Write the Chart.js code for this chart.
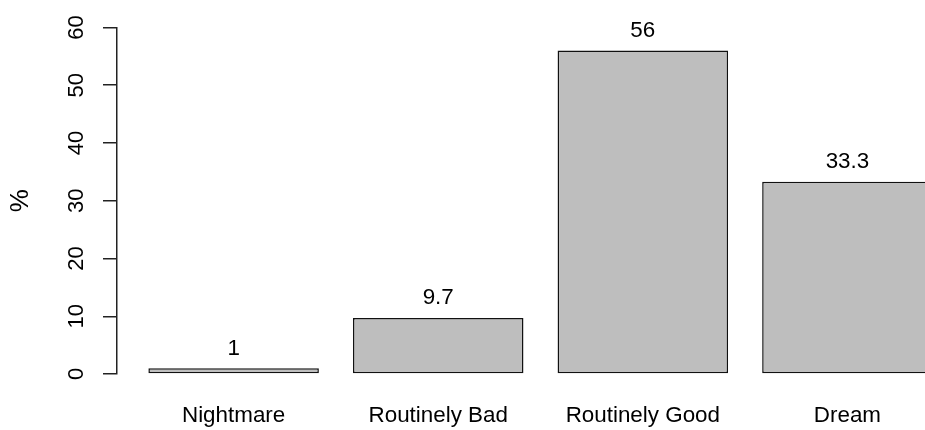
<!DOCTYPE html>
<html>
<head>
<meta charset="utf-8">
<script src="https://cdn.jsdelivr.net/npm/chart.js@4/dist/chart.umd.min.js"></script>
<style>
  html, body { margin: 0; padding: 0; background: #fff; overflow: hidden; }
  canvas { display: block; }
</style>
</head>
<body>
<canvas id="barChart" width="925" height="430"></canvas>
<script>
const categories = ['Nightmare', 'Routinely Bad', 'Routinely Good', 'Dream'];
const percents = [1, 9.7, 56, 33.3];
const yTicks = [0, 10, 20, 30, 40, 50, 60];

const FONT = "'Liberation Sans', Arial, Helvetica, sans-serif";
const FONT_SIZE = 22.4;

// R barplot layout: width 1, space 0.2 -> centres at 0.7, 1.9, 3.1, 4.3
function barCentre(i) {
    return 0.7 + i * 1.2;
}

const points = percents.map((v, i) => ({ x: barCentre(i), y: v }));

// Value labels above each bar
const valueLabels = {
    id: 'valueLabels',
    afterDatasetsDraw(chart) {
        const ctx = chart.ctx;
        const meta = chart.getDatasetMeta(0);
        ctx.save();
        ctx.font = FONT_SIZE + 'px ' + FONT;
        ctx.fillStyle = '#000';
        ctx.textAlign = 'center';
        ctx.textBaseline = 'alphabetic';
        meta.data.forEach((bar, i) => {
            ctx.fillText(String(percents[i]), bar.x, bar.y - 13.5);
        });
        ctx.restore();
    }
};

new Chart(document.getElementById('barChart').getContext('2d'), {
    type: 'bar',
    data: {
        datasets: [{
            data: points,
            backgroundColor: '#bebebe',
            borderColor: '#111',
            borderWidth: 1.5,
            borderSkipped: false,
            barPercentage: 1 / 1.2,
            categoryPercentage: 1,
            clip: false
        }]
    },
    options: {
        responsive: false,
        animation: false,
        layout: { padding: { top: 24.3, right: 0, bottom: 0, left: 0 } },
        plugins: {
            legend: { display: false },
            tooltip: { enabled: false }
        },
        scales: {
            x: {
                type: 'linear',
                offset: false,
                bounds: 'ticks',
                min: 0.016,
                max: 0.016 + 808 / 170.5,
                grid: { display: false, drawTicks: false },
                border: { display: false },
                afterFit: scale => { scale.height = 56; },
                afterBuildTicks: scale => {
                    scale.ticks = categories.map((c, i) => ({ value: barCentre(i) }));
                },
                ticks: {
                    autoSkip: false,
                    maxRotation: 0,
                    padding: 28.3,
                    color: '#000',
                    font: { family: FONT, size: FONT_SIZE },
                    callback: function(value) {
                        const i = Math.round((value - 0.7) / 1.2);
                        return categories[i];
                    }
                }
            },
            y: {
                min: 0,
                max: 60,
                afterFit: scale => { scale.width = 117; },
                afterBuildTicks: scale => {
                    scale.ticks = yTicks.map(v => ({ value: v }));
                },
                grid: {
                    drawOnChartArea: false,
                    drawTicks: true,
                    tickLength: 14,
                    color: '#222',
                    lineWidth: 1.5
                },
                border: { display: true, color: '#222', width: 1.5 },
                ticks: {
                    minRotation: 90,
                    maxRotation: 90,
                    crossAlign: 'center',
                    padding: 14.3,
                    color: '#000',
                    font: { family: FONT, size: 22 }
                },
                title: {
                    display: true,
                    text: '%',
                    color: '#000',
                    padding: { top: 4.8, bottom: 0 },
                    font: { family: FONT, size: 26 }
                }
            }
        }
    },
    plugins: [valueLabels]
});
</script>
</body>
</html>
